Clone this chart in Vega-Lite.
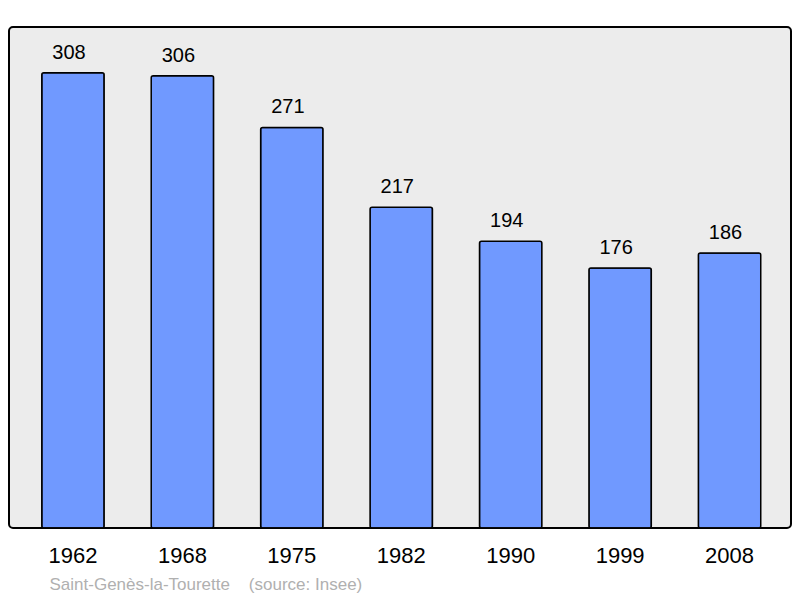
{
  "$schema": "https://vega.github.io/schema/vega-lite/v6.json",
  "width": 782,
  "height": 501,
  "autosize": {"type": "none"},
  "padding": {"left": 9, "top": 27, "right": 9, "bottom": 70},
  "background": "white",
  "config": {
    "view": {"stroke": "black", "strokeWidth": 2, "fill": "#ececec", "cornerRadius": 4},
    "font": "Liberation Sans"
  },
  "data": {
    "values": [
      {"year": "1962", "pop": 308},
      {"year": "1968", "pop": 306},
      {"year": "1975", "pop": 271},
      {"year": "1982", "pop": 217},
      {"year": "1990", "pop": 194},
      {"year": "1999", "pop": 176},
      {"year": "2008", "pop": 186}
    ]
  },
  "encoding": {
    "x": {
      "field": "year",
      "type": "ordinal",
      "scale": {"paddingInner": 0.43, "paddingOuter": 0.288, "align": 0.52},
      "axis": {
        "domain": false,
        "ticks": false,
        "labelAngle": 0,
        "labelFontSize": 22,
        "labelColor": "black",
        "labelPadding": 17,
        "title": "Saint-Genès-la-Tourette\u00a0\u00a0\u00a0\u00a0(source: Insee)",
        "titleFontSize": 17,
        "titleFontWeight": "normal",
        "titleColor": "#b0b0b0",
        "titleAnchor": "start",
        "titleAlign": "left",
        "titleBaseline": "alphabetic",
        "titleX": 40,
        "titleY": 61
      }
    },
    "y": {
      "field": "pop",
      "type": "quantitative",
      "scale": {"domain": [0, 339], "nice": false},
      "axis": null
    }
  },
  "layer": [
    {
      "mark": {"type": "bar", "color": "#7099ff", "stroke": "black", "strokeWidth": 1.5, "cornerRadius": 2}
    },
    {
      "mark": {"type": "text", "baseline": "alphabetic", "dy": -14, "dx": -4, "fontSize": 20, "color": "black"},
      "encoding": {"text": {"field": "pop", "type": "quantitative"}}
    }
  ]
}
